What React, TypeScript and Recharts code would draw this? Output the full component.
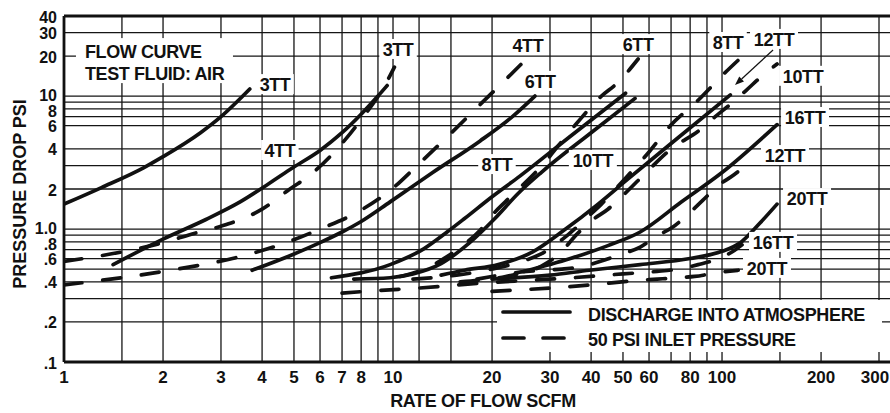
import React from "react";
import { CartesianGrid, Legend, Line, LineChart, ReferenceDot, ReferenceLine, XAxis, YAxis } from "recharts";

// flow (SCFM) vs pressure drop (PSI) pairs
const solid3TT = [[1, 1.54], [1.3, 2.05], [1.75, 2.9], [2, 3.5], [2.6, 5.3], [3, 7.0], [3.67, 11.3]];
const solid4TT = [[1.41, 0.54], [2, 0.84], [2.7, 1.18], [3.43, 1.6], [4.2, 2.2], [4.97, 2.9], [6, 3.9], [7, 5.3], [8, 7.3], [9, 10], [9.6, 12]];
const solid6TT = [[3.73, 0.49], [4.86, 0.63], [6, 0.79], [7, 0.95], [8, 1.14], [9.8, 1.6], [13.2, 2.66], [18.4, 4.6], [23.2, 7.1], [27, 10]];
const solid8TT = [[6.5, 0.43], [9.8, 0.54], [12.4, 0.71], [14.6, 0.95], [16.5, 1.2], [20, 1.75], [24.3, 2.5], [35, 5.1], [50.9, 10.5]];
const solid10TT = [[7.6, 0.42], [9.8, 0.43], [11.5, 0.46], [14, 0.55], [17, 0.78], [20.4, 1.2], [24, 1.85], [28.2, 2.66], [40, 5.3], [54.4, 9.6]];
const solid12TT = [[14, 0.45], [16.5, 0.49], [20.9, 0.54], [26.5, 0.67], [33.3, 0.99], [42, 1.54], [51.6, 2.36], [70, 4.4], [106, 10.2]];
const solid16TT = [[25, 0.48], [34.6, 0.6], [45, 0.75], [56.4, 0.95], [75, 1.59], [100, 2.66], [147, 6.1]];
const solid20TT = [[20, 0.42], [30, 0.45], [39.5, 0.49], [56.4, 0.54], [80, 0.6], [100, 0.68], [113, 0.78], [130, 1.1], [147, 1.54]];

const dashed3TT = [[1, 0.57], [2, 0.79], [2.5, 0.93], [3, 1.05], [4, 1.41], [4.86, 2.0], [5.6, 2.55], [6.5, 3.6], [7.4, 5.2], [8.4, 7.8], [9.4, 11.8], [10.1, 16.5]];
const dashed4TT = [[1, 0.38], [2, 0.48], [3.6, 0.64], [4.6, 0.77], [6, 1.0], [7.8, 1.34], [9.8, 1.95], [12.1, 3.16], [14.7, 5.0], [18.1, 8.3], [22.2, 13.6], [25.7, 19.5]];
const dashed6TT = [[10.5, 0.44], [12.9, 0.52], [14.6, 0.62], [16.5, 0.77], [18.4, 0.98], [20, 1.27], [22.2, 1.65], [28, 2.9], [35.8, 6.06], [43, 10], [48, 12.5], [55.6, 19]];
const dashed8TT = [[11.5, 0.42], [15.6, 0.45], [20, 0.5], [24.6, 0.57], [28.2, 0.65], [33, 0.85], [39, 1.23], [43, 1.54], [50, 2.3], [60, 3.8], [69.6, 5.97], [84.6, 9.3], [101.6, 14.8], [113, 19]];
const dashed10TT = [[16, 0.4], [22, 0.44], [28, 0.52], [32, 0.65], [36.3, 0.92], [40.4, 1.17], [45, 1.41], [50, 1.79], [60, 2.8], [69.6, 3.95], [85.6, 5.56], [96, 7.1], [105.6, 8.6], [118.7, 11.1], [132, 14.1], [147, 17.4]];
const dashed12TT = [[18, 0.42], [25.5, 0.48], [32.6, 0.5], [37.5, 0.52], [42.5, 0.57], [49.6, 0.65], [56.4, 0.73], [62.6, 0.87], [70.7, 1.03], [78.8, 1.29], [87.5, 1.65], [97.6, 2.13], [109, 2.57], [123, 3.3]];
const dashed16TT = [[7, 0.33], [9, 0.345], [12, 0.36], [18, 0.39], [25, 0.41], [35, 0.43], [50, 0.46], [63.5, 0.48], [73.5, 0.5], [84.6, 0.54], [96, 0.59], [109, 0.69], [115, 0.76]];
const dashed20TT = [[20, 0.34], [30, 0.36], [40, 0.38], [55, 0.41], [63.5, 0.42], [72.9, 0.43], [82.6, 0.44], [97, 0.47], [112, 0.49]];

const xTicks = [1, 2, 3, 4, 5, 6, 7, 8, 10, 20, 30, 40, 50, 60, 80, 100, 200, 300];
const yTicks = [0.1, 0.2, 0.4, 0.6, 0.8, 1, 2, 4, 6, 8, 10, 20, 30, 40];
const xGrid = [1.5, 2, 3, 4, 5, 6, 7, 8, 9, 10, 12, 15, 20, 30, 40, 50, 60, 70, 80, 90, 100, 150, 200, 300];
const yGrid = [0.2, 0.3, 0.4, 0.5, 0.6, 0.7, 0.8, 0.9, 1, 2, 3, 4, 6, 7, 8, 9, 10, 20, 30];

const series = [
  { name: "3TT", data: solid3TT, dashed: false },
  { name: "4TT", data: solid4TT, dashed: false },
  { name: "6TT", data: solid6TT, dashed: false },
  { name: "8TT", data: solid8TT, dashed: false },
  { name: "10TT", data: solid10TT, dashed: false },
  { name: "12TT", data: solid12TT, dashed: false },
  { name: "16TT", data: solid16TT, dashed: false },
  { name: "20TT", data: solid20TT, dashed: false },
  { name: "3TT 50psi", data: dashed3TT, dashed: true },
  { name: "4TT 50psi", data: dashed4TT, dashed: true },
  { name: "6TT 50psi", data: dashed6TT, dashed: true },
  { name: "8TT 50psi", data: dashed8TT, dashed: true },
  { name: "10TT 50psi", data: dashed10TT, dashed: true },
  { name: "12TT 50psi", data: dashed12TT, dashed: true },
  { name: "16TT 50psi", data: dashed16TT, dashed: true },
  { name: "20TT 50psi", data: dashed20TT, dashed: true },
];

// curve labels, anchored in data space
const curveLabels = [
  { text: "3TT", x: 4.38, y: 12.3 },
  { text: "4TT", x: 4.53, y: 3.93 },
  { text: "3TT", x: 10.36, y: 22.6 },
  { text: "4TT", x: 25.7, y: 24.2 },
  { text: "6TT", x: 28.0, y: 13.0 },
  { text: "8TT", x: 20.7, y: 3.08 },
  { text: "6TT", x: 55.6, y: 24.6 },
  { text: "8TT", x: 104.3, y: 25.5 },
  { text: "12TT", x: 143.9, y: 26.9 },
  { text: "10TT", x: 176.3, y: 14.2 },
  { text: "16TT", x: 178.8, y: 6.96 },
  { text: "12TT", x: 155.4, y: 3.6 },
  { text: "10TT", x: 40.5, y: 3.31 },
  { text: "20TT", x: 181.3, y: 1.71 },
  { text: "16TT", x: 142.9, y: 0.8 },
  { text: "20TT", x: 137, y: 0.51 },
];

const font = '"Liberation Sans", Arial, Helvetica, sans-serif';
const ink = "#111";
const lineW = 3.7;

const toPts = (arr: number[][]) => arr.map(([x, y]) => ({ x, y }));

const fmtY = (v: number) => {
  if (v === 1) return "1.0";
  if (v < 1) return "." + Math.round(v * 10);
  return String(v);
};

// labels of tightly packed ticks are nudged apart like in the original
const yNudge = (v: number) => (v === 10 || v === 1 ? -1.5 : v === 8 || v === 0.8 ? 1.5 : 0);

const XTick = (props: any) => (
  <text x={props.x + (props.payload.value === 300 ? -4 : 0)} y={props.y + 21} textAnchor="middle"
    fontFamily={font} fontWeight={700} fontSize={17} fill={ink}>
    {props.payload.value}
  </text>
);

const YTick = (props: any) => (
  <text x={props.x} y={props.y + 6.5 + yNudge(props.payload.value)} textAnchor="end" fontFamily={font}
    fontWeight={700} fontSize={16} fill={ink}>
    {fmtY(props.payload.value)}
  </text>
);

const yTitle = (props: any) => {
  const vb = props.viewBox || { x: 0, y: 16, width: 64, height: 346 };
  const cx = vb.x + 20;
  const cy = vb.y + vb.height / 2 + 5;
  return (
    <text x={cx} y={cy} transform={`rotate(-90 ${cx} ${cy})`} textAnchor="middle" dominantBaseline="central"
      fontFamily={font} fontWeight={700} fontSize={18} fill={ink}>
      PRESSURE DROP PSI
    </text>
  );
};

const xTitle = (props: any) => {
  const vb = props.viewBox || { x: 64, y: 362, width: 826, height: 30 };
  return (
    <text x={vb.x + vb.width / 2 + 6} y={vb.y + 45} textAnchor="middle" fontFamily={font} fontWeight={700}
      fontSize={18} letterSpacing={-0.35} fill={ink}>
      RATE OF FLOW SCFM
    </text>
  );
};

const labelShape = (text: string) => (p: any) => {
  const w = text.length * 10.5 + 6;
  return (
    <g>
      <rect x={p.cx - w / 2} y={p.cy - 10} width={w} height={20} fill="#fff" />
      <text x={p.cx} y={p.cy + 6.8} textAnchor="middle" fontFamily={font} fontWeight={700} fontSize={18}
        letterSpacing={-0.4} fill={ink}>
        {text}
      </text>
    </g>
  );
};

const titleShape = (p: any) => (
  <g>
    <rect x={p.cx - 9} y={p.cy - 13.5} width={157} height={45} fill="#fff" />
    <text x={p.cx} y={p.cy + 6.8} fontFamily={font} fontWeight={700} fontSize={18} letterSpacing={-0.4} fill={ink}>FLOW CURVE</text>
    <text x={p.cx} y={p.cy + 28.8} fontFamily={font} fontWeight={700} fontSize={18} letterSpacing={-0.4} fill={ink}>TEST FLUID: AIR</text>
  </g>
);

const arrowShape = (p: any) => {
  const { x1, y1, x2, y2 } = p;
  const a = Math.atan2(y2 - y1, x2 - x1);
  const L = 9;
  const s = 3.5;
  const bx = x2 - L * Math.cos(a);
  const by = y2 - L * Math.sin(a);
  const pts = `${x2},${y2} ${bx - s * Math.sin(a)},${by + s * Math.cos(a)} ${bx + s * Math.sin(a)},${by - s * Math.cos(a)}`;
  return (
    <g>
      <line x1={x1} y1={y1} x2={bx} y2={by} stroke={ink} strokeWidth={1.2} />
      <polygon points={pts} fill={ink} />
    </g>
  );
};

const LegendBox = () => (
  <svg width={385} height={52} style={{ display: "block", background: "#fff" }}>
    <line x1={6} y1={12} x2={73} y2={12} stroke={ink} strokeWidth={lineW} strokeLinecap="round" />
    <line x1={6} y1={38} x2={67} y2={38} stroke={ink} strokeWidth={lineW} strokeLinecap="round" strokeDasharray="21 19" />
    <text x={91} y={20.5} fontFamily={font} fontWeight={700} fontSize={18} letterSpacing={-0.35} fill={ink}>DISCHARGE INTO ATMOSPHERE</text>
    <text x={91} y={46} fontFamily={font} fontWeight={700} fontSize={18} letterSpacing={-0.35} fill={ink}>50 PSI INLET PRESSURE</text>
  </svg>
);

export default function App() {
  return (
    <div style={{ position: "absolute", left: 0, top: 0, width: 890, height: 413, background: "#fff" }}>
      <LineChart width={890} height={413} margin={{ top: 16, right: 0, bottom: 21, left: 0 }}>
        <CartesianGrid stroke="#151515" strokeWidth={1.3} horizontalValues={yGrid} verticalValues={xGrid} />
        <XAxis
          dataKey="x"
          type="number"
          scale="log"
          domain={[1, 324]}
          allowDataOverflow
          ticks={xTicks}
          interval={0}
          height={30}
          tickSize={0}
          tickMargin={0}
          tick={<XTick />}
          axisLine={{ stroke: ink, strokeWidth: 2.8 }}
          label={xTitle}
        />
        <YAxis
          type="number"
          scale="log"
          domain={[0.1, 40]}
          allowDataOverflow
          ticks={yTicks}
          interval={0}
          width={64}
          tickSize={0}
          tickMargin={7}
          tick={<YTick />}
          axisLine={{ stroke: ink, strokeWidth: 2.8 }}
          label={yTitle}
        />
        <ReferenceLine y={40} stroke={ink} strokeWidth={2.8} />
        <ReferenceDot x={1.158} y={21.6} r={0} shape={titleShape} />
        {series.map((s) => (
          <Line
            key={s.name}
            name={s.name}
            data={toPts(s.data)}
            dataKey="y"
            type="monotone"
            stroke={ink}
            strokeWidth={lineW}
            strokeLinecap="round"
            strokeDasharray={s.dashed ? "18 21" : undefined}
            dot={false}
            activeDot={false}
            legendType="none"
            isAnimationActive={false}
          />
        ))}
        {curveLabels.map((l, i) => (
          <ReferenceDot key={i} x={l.x} y={l.y} r={0} shape={labelShape(l.text)} />
        ))}
        <ReferenceLine segment={[{ x: 142.9, y: 22.2 }, { x: 109.5, y: 12.1 }]} shape={arrowShape} />
        <Legend
          layout="horizontal"
          verticalAlign="middle"
          content={<LegendBox />}
          wrapperStyle={{ left: 497, top: 300, width: 385, height: 52, lineHeight: 0 }}
        />
      </LineChart>
    </div>
  );
}
